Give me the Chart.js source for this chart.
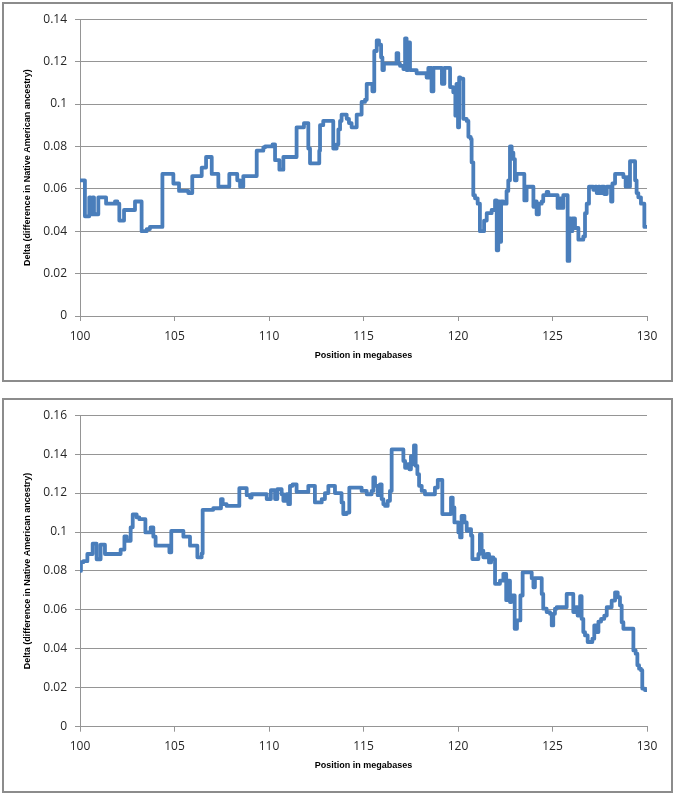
<!DOCTYPE html>
<html><head><meta charset="utf-8">
<script src="https://cdn.jsdelivr.net/npm/chart.js@4"></script>
<style>
html,body{margin:0;padding:0;background:#fff;}
.frame{position:absolute;left:2px;width:667px;border:2px solid #8c8c8c;background:#fff;}
#f1{top:2px;height:376px;}
#f2{top:398px;height:391px;}
canvas{display:block;}
</style></head><body>
<div class="frame" id="f1"><canvas id="c1" width="667" height="376"></canvas></div>
<div class="frame" id="f2"><canvas id="c2" width="667" height="391"></canvas></div>
<script>
// ---- data ----
const xTicks = [100, 105, 110, 115, 120, 125, 130];
const xTickLabels = ['100', '105', '110', '115', '120', '125', '130'];
const yTicksTop = [0, 0.02, 0.04, 0.06, 0.08, 0.1, 0.12, 0.14];
const yTickLabelsTop = ['0', '0.02', '0.04', '0.06', '0.08', '0.1', '0.12', '0.14'];
const yTicksBottom = [0, 0.02, 0.04, 0.06, 0.08, 0.1, 0.12, 0.14, 0.16];
const yTickLabelsBottom = ['0', '0.02', '0.04', '0.06', '0.08', '0.1', '0.12', '0.14', '0.16'];
const xTitle = 'Position in megabases';
const yTitle = 'Delta (difference in Native American ancestry)';

const topPositions = [100.00,100.26,100.49,100.56,100.67,100.74,100.97,101.38,101.85,101.98,102.08,102.33,102.91,103.26,103.53,103.70,104.36,104.94,105.24,105.73,105.94,106.44,106.67,106.97,107.32,107.90,108.32,108.47,108.64,109.35,109.70,109.79,110.19,110.32,110.55,110.76,111.46,111.85,112.08,112.17,112.66,112.70,112.87,113.40,113.58,113.67,113.76,113.84,114.11,114.23,114.37,114.64,114.90,115.08,115.17,115.47,115.57,115.70,115.82,115.93,116.00,116.08,116.75,116.84,116.93,117.11,117.20,117.28,117.37,117.46,117.81,118.34,118.43,118.60,118.70,119.15,119.28,119.40,119.58,119.75,119.86,119.92,120.00,120.06,120.12,120.23,120.28,120.46,120.55,120.67,120.72,120.81,120.90,121.04,121.16,121.38,121.52,121.78,121.96,122.05,122.13,122.19,122.28,122.40,122.57,122.66,122.75,122.84,122.93,123.01,123.10,123.51,123.63,123.99,124.07,124.16,124.28,124.43,124.51,124.69,124.78,125.27,125.40,125.49,125.57,125.80,125.89,125.98,126.05,126.19,126.37,126.63,126.72,126.81,126.93,127.16,127.25,127.34,127.43,127.51,127.60,127.74,127.87,128.10,128.17,128.31,128.75,128.87,128.96,129.05,129.10,129.37,129.45,129.54,129.68,129.86,130.00];
const topDelta = [0.064,0.047,0.056,0.048,0.056,0.048,0.056,0.053,0.054,0.053,0.045,0.050,0.054,0.040,0.041,0.042,0.067,0.0625,0.059,0.058,0.066,0.070,0.075,0.067,0.061,0.067,0.064,0.061,0.066,0.078,0.0795,0.080,0.081,0.0735,0.069,0.075,0.089,0.091,0.079,0.072,0.078,0.090,0.092,0.079,0.081,0.088,0.092,0.095,0.093,0.091,0.089,0.095,0.101,0.102,0.1095,0.106,0.125,0.130,0.128,0.122,0.116,0.119,0.124,0.119,0.118,0.1165,0.131,0.116,0.129,0.116,0.1145,0.1125,0.117,0.106,0.117,0.1095,0.117,0.117,0.108,0.1055,0.0945,0.1095,0.089,0.1125,0.112,0.112,0.093,0.092,0.0845,0.0835,0.0725,0.057,0.0555,0.053,0.040,0.045,0.0485,0.050,0.0545,0.031,0.054,0.035,0.054,0.053,0.059,0.064,0.080,0.077,0.074,0.064,0.067,0.0545,0.061,0.0515,0.054,0.048,0.053,0.054,0.057,0.0585,0.057,0.051,0.0555,0.051,0.057,0.026,0.046,0.040,0.046,0.0415,0.036,0.0375,0.0485,0.053,0.061,0.0595,0.061,0.058,0.061,0.058,0.061,0.0575,0.061,0.054,0.0625,0.067,0.0655,0.061,0.0655,0.061,0.073,0.064,0.058,0.056,0.053,0.042,0.042];

const bottomPositions = [100.00,100.05,100.18,100.39,100.67,100.88,101.09,101.32,102.15,102.35,102.47,102.68,102.79,103.00,103.14,103.46,103.74,103.88,104.00,104.73,104.83,105.47,105.82,106.21,106.44,106.49,107.05,107.46,107.55,107.76,108.43,108.82,109.00,109.08,109.88,110.10,110.32,110.44,110.67,110.76,110.93,111.02,111.11,111.25,111.46,112.08,112.43,112.79,112.96,113.14,113.49,113.84,113.93,114.11,114.25,114.90,115.17,115.43,115.52,115.61,115.75,115.87,115.96,116.05,116.14,116.28,116.40,116.49,117.11,117.20,117.34,117.43,117.51,117.60,117.67,117.76,117.85,117.94,118.08,118.25,118.78,118.93,119.17,119.63,119.72,119.81,120.02,120.11,120.19,120.34,120.46,120.58,120.69,120.76,121.08,121.16,121.25,121.34,121.52,121.64,121.75,121.87,121.96,122.22,122.40,122.55,122.65,122.75,122.82,123.00,123.12,123.30,123.42,123.90,123.99,124.07,124.43,124.51,124.69,124.87,124.96,125.04,125.13,125.22,125.75,126.10,126.23,126.33,126.46,126.54,126.63,126.72,126.86,127.11,127.21,127.34,127.43,127.57,127.74,127.87,128.13,128.31,128.45,128.57,128.66,128.75,129.28,129.40,129.49,129.58,129.68,129.75,129.89,130.00];
const bottomDelta = [0.080,0.0845,0.085,0.0887,0.094,0.086,0.0935,0.0887,0.091,0.0977,0.0955,0.1024,0.109,0.1075,0.1066,0.0998,0.1024,0.0976,0.093,0.0896,0.1006,0.0976,0.093,0.087,0.089,0.1114,0.1122,0.1169,0.1143,0.1134,0.1225,0.1189,0.1177,0.1194,0.1169,0.1215,0.1169,0.122,0.1194,0.116,0.1194,0.1143,0.1237,0.1245,0.1206,0.1237,0.1152,0.1169,0.120,0.1237,0.120,0.1152,0.1092,0.110,0.1228,0.1211,0.1194,0.1211,0.128,0.1237,0.1189,0.1245,0.1169,0.1143,0.1134,0.116,0.1211,0.1424,0.1365,0.133,0.1348,0.1322,0.139,0.1348,0.1445,0.134,0.1297,0.1237,0.1211,0.1194,0.1228,0.1268,0.1092,0.1177,0.1126,0.1049,0.0998,0.0972,0.1083,0.1049,0.1006,0.1015,0.0981,0.0861,0.0887,0.0989,0.0904,0.087,0.0887,0.0844,0.087,0.0861,0.0734,0.075,0.0785,0.065,0.075,0.064,0.0674,0.0503,0.0546,0.0674,0.0793,0.0763,0.0716,0.0763,0.0682,0.0606,0.0589,0.058,0.052,0.058,0.0606,0.0614,0.0682,0.0589,0.0614,0.0571,0.067,0.0554,0.0486,0.0469,0.0435,0.0452,0.052,0.0486,0.054,0.0554,0.0571,0.0614,0.0648,0.069,0.0665,0.0623,0.0537,0.0503,0.0392,0.0375,0.0316,0.0298,0.029,0.0196,0.0188,0.0188];

// ---- chart builder ----
const GRID = '#959595';
function makeChart(id, xs, ys, yTicks, yLabels, yMax, padTop, axisH, padBottom) {
  const pts = xs.map((x, i) => ({x: x, y: ys[i]}));
  return new Chart(document.getElementById(id), {
    type: 'line',
    data: { datasets: [{
      data: pts,
      stepped: true,
      borderColor: '#4a7ebb',
      borderWidth: 3.8,
      pointRadius: 0,
      fill: false,
      borderJoinStyle: 'round',
      borderCapStyle: 'round'
    }]},
    options: {
      responsive: false,
      animation: false,
      events: [],
      layout: { padding: { left: 0, right: 24, top: padTop, bottom: padBottom } },
      plugins: { legend: { display: false }, tooltip: { enabled: false } },
      scales: {
        x: {
          type: 'linear', min: 100, max: 130,
          afterBuildTicks: s => { s.ticks = xTicks.map(v => ({value: v})); },
          afterFit: s => { s.height = axisH; },
          ticks: {
            font: { family: 'Open Sans', size: 12 }, color: '#262626', padding: 8,
            maxRotation: 0,
            callback: (v, i) => xTickLabels[i]
          },
          grid: { drawOnChartArea: false, drawTicks: true, tickLength: 5, color: GRID },
          border: { display: true, color: GRID, width: 1 },
          title: { display: true, text: xTitle, color: '#000',
                   font: { family: 'Liberation Sans', size: 9, weight: 'bold' },
                   padding: { top: 0, bottom: 0 } }
        },
        y: {
          type: 'linear', min: 0, max: yMax,
          afterBuildTicks: s => { s.ticks = yTicks.map(v => ({value: v})); },
          afterFit: s => { s.width = 76; },
          ticks: {
            font: { family: 'Open Sans', size: 12 }, color: '#262626', padding: 8,
            callback: (v, i) => yLabels[i]
          },
          grid: { color: GRID, lineWidth: 1, tickLength: 5, drawTicks: true },
          border: { display: true, color: GRID, width: 1 },
          title: { display: true, text: yTitle, color: '#000',
                   font: { family: 'Liberation Sans', size: 9, weight: 'bold' },
                   padding: { top: 18.6, bottom: 0 } }
        }
      }
    }
  });
}
makeChart('c1', topPositions, topDelta, yTicksTop, yTickLabelsTop, 0.14, 3.8, 45.4, 18.6);
makeChart('c2', bottomPositions, bottomDelta, yTicksBottom, yTickLabelsBottom, 0.16, 5.8, 44.7, 19.6);
</script>
</body></html>
